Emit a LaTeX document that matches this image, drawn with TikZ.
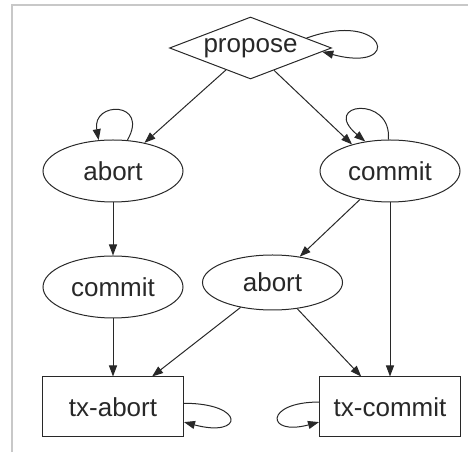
\documentclass[tikz,border=0pt]{standalone}
\usepackage{fontspec}
\setmainfont{Liberation Sans}
\usetikzlibrary{shapes.geometric,arrows.meta}
\definecolor{inkgrey}{RGB}{40,40,40}
\definecolor{edgegrey}{RGB}{200,200,200}

\begin{document}
\begin{tikzpicture}[x=1pt, y=1pt, line width=1pt, draw=inkgrey,
    >={Triangle[length=11pt,width=8pt]},
    every node/.style={font=\fontsize{26}{30}\selectfont, text=inkgrey},
    choice/.style={draw, diamond, aspect=2.6, minimum width=162pt, minimum height=62pt, inner sep=0pt},
    state/.style={draw, ellipse, minimum width=140pt, minimum height=62pt, inner sep=0pt},
    final/.style={draw, rectangle, minimum width=141pt, minimum height=60pt, inner sep=0pt}]
    \useasboundingbox (0,0) rectangle (468,452);
    \draw[edgegrey, line width=1.5pt] (12,0) -- (12,447) -- (468,447);

    \node[choice] (propose) at (250.5,404) {propose};
    \node[state] (abortA) at (113,281) {abort};
    \node[state] (commitA) at (390,281) {commit};
    \node[state] (commitB) at (113,165) {commit};
    \node[state, minimum height=55pt] (abortB) at (272.5,169.5) {abort};
    \node[final] (txabort) at (113,45) {tx-abort};
    \node[final] (txcommit) at (390,45) {tx-commit};

    \draw[->] (propose) -- (abortA);
    \draw[->] (propose) -- (commitA.145);
    \draw[->] (abortA) -- (commitB);
    \draw[->] (commitA) -- (abortB);
    \draw[->] (commitA) -- (txcommit);
    \draw[->] (commitB) -- (txabort);
    \draw[->] (abortB) -- (txabort);
    \draw[->] (abortB) -- (txcommit);

    % self loops
    \draw[->] (propose.10) to[out=20, in=-15, distance=85] (propose.-3);
    \draw[->] (abortA.65) to[out=60, in=100, out distance=45, in distance=40] (abortA.115);
    \draw[->] (commitA.93) to[out=85, in=140, out distance=45, in distance=60] (commitA.130);
    \draw[->] (txabort.3) to[out=0, in=-15, distance=62] (txabort.-12);
    \draw[->] (txcommit.176) to[out=180, in=195, distance=55] (txcommit.192);
\end{tikzpicture}
\end{document}
